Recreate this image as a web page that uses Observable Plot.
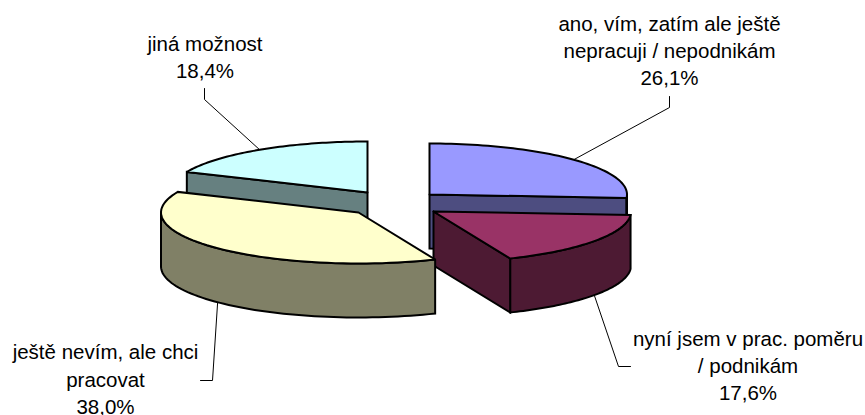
<!DOCTYPE html>
<html><head><meta charset="utf-8">
<style>html,body{margin:0;padding:0;background:#fff}svg{display:block}</style>
<script src="https://cdn.jsdelivr.net/npm/d3@7"></script>
<script src="https://cdn.jsdelivr.net/npm/@observablehq/plot@0.6"></script>
</head><body><script>
const categories = ["ano, vím, zatím ale ještě\nnepracuji / nepodnikám", "nyní jsem v prac. poměru\n/ podnikám", "ještě nevím, ale chci\npracovat", "jiná možnost"];
const shares = [26.1, 17.6, 38.0, 18.4];
const topColors = ["#9999ff", "#993366", "#ffffcc", "#ccffff"];
const wallColors = ["#4d4d80", "#4d1a33", "#808066", "#668080"];
const centerX = [429, 433, 358, 367];
const centerY = [194, 211, 212, 192];
const labelX = [669, 747.5, 105, 204.5];
const labelY = [49, 364, 377.5, 55.5];
const elbowX = [[669, 669], [618, 630], [212, 200], [204, 204]];
const elbowY = [[107, 96], [366, 366], [380, 380], [99, 88]];
const drawOrder = [3, 0, 1, 2];
const rx = 197.5, ry = 51, depth = 54;

const total = d3.sum(shares);
const cum = d3.cumsum(shares);
const spans = shares.map((s, i) => [(cum[i] - s) / total * 2 * Math.PI, cum[i] / total * 2 * Math.PI]);
const rim = (i, a, dz = 0) => ({x: centerX[i] + rx * Math.sin(a), y: centerY[i] - ry * Math.cos(a) + dz});
const arc = (i, a0, a1, dz = 0) => d3.range(61).map(k => rim(i, a0 + (a1 - a0) * k / 60, dz));
const apex = (i, dz = 0) => ({x: centerX[i], y: centerY[i] + dz});
const topFace = i => [apex(i), ...arc(i, spans[i][0], spans[i][1]), apex(i)];
const band = (i, a0, a1) => [...arc(i, a0, a1), ...arc(i, a1, a0, depth), rim(i, a0)];
const cutFace = (i, a) => [apex(i), rim(i, a), rim(i, a, depth), apex(i, depth), apex(i)];

// visible side walls of each slice
const walls = [
  [cutFace(0, spans[0][1]), band(0, Math.PI / 2, spans[0][1])],
  [band(1, spans[1][0], spans[1][1]), cutFace(1, spans[1][1])],
  [band(2, spans[2][0], 1.5 * Math.PI)],
  [cutFace(3, spans[3][0])]
];

const face = (pts, fill) => Plot.line(pts, {x: "x", y: "y", fill, stroke: "#000", strokeWidth: 2, strokeLinejoin: "miter", strokeMiterlimit: 3});
const sliceMarks = drawOrder.flatMap(i => [...walls[i].map(w => face(w, wallColors[i])), face(topFace(i), topColors[i])]);

const leaderStart = i => {
  const a = (spans[i][0] + spans[i][1]) / 2;
  return rim(i, a, Math.cos(a) < 0 ? depth : 0);
};
const leaderMarks = shares.map((_, i) => Plot.line(
  [leaderStart(i), ...elbowX[i].map((x, k) => ({x, y: elbowY[i][k]}))],
  {x: "x", y: "y", stroke: "#000", strokeWidth: 1}));

const fmt = v => v.toFixed(1).replace(".", ",") + "%";
const labels = shares.map((v, i) => ({text: categories[i] + "\n" + fmt(v), x: labelX[i], y: labelY[i]}));

const chart = Plot.plot({
  width: 865, height: 415, margin: 0,
  x: {domain: [0, 865], range: [0, 865], axis: null},
  y: {domain: [0, 415], range: [0, 415], axis: null},
  marks: [
    ...leaderMarks,
    ...sliceMarks,
    Plot.text(labels, {x: "x", y: "y", text: "text", fontFamily: "Liberation Sans", fontSize: 20.5, lineHeight: 1.33, fill: "#000", textAnchor: "middle"})
  ]
});
document.body.appendChild(chart);
</script></body></html>
